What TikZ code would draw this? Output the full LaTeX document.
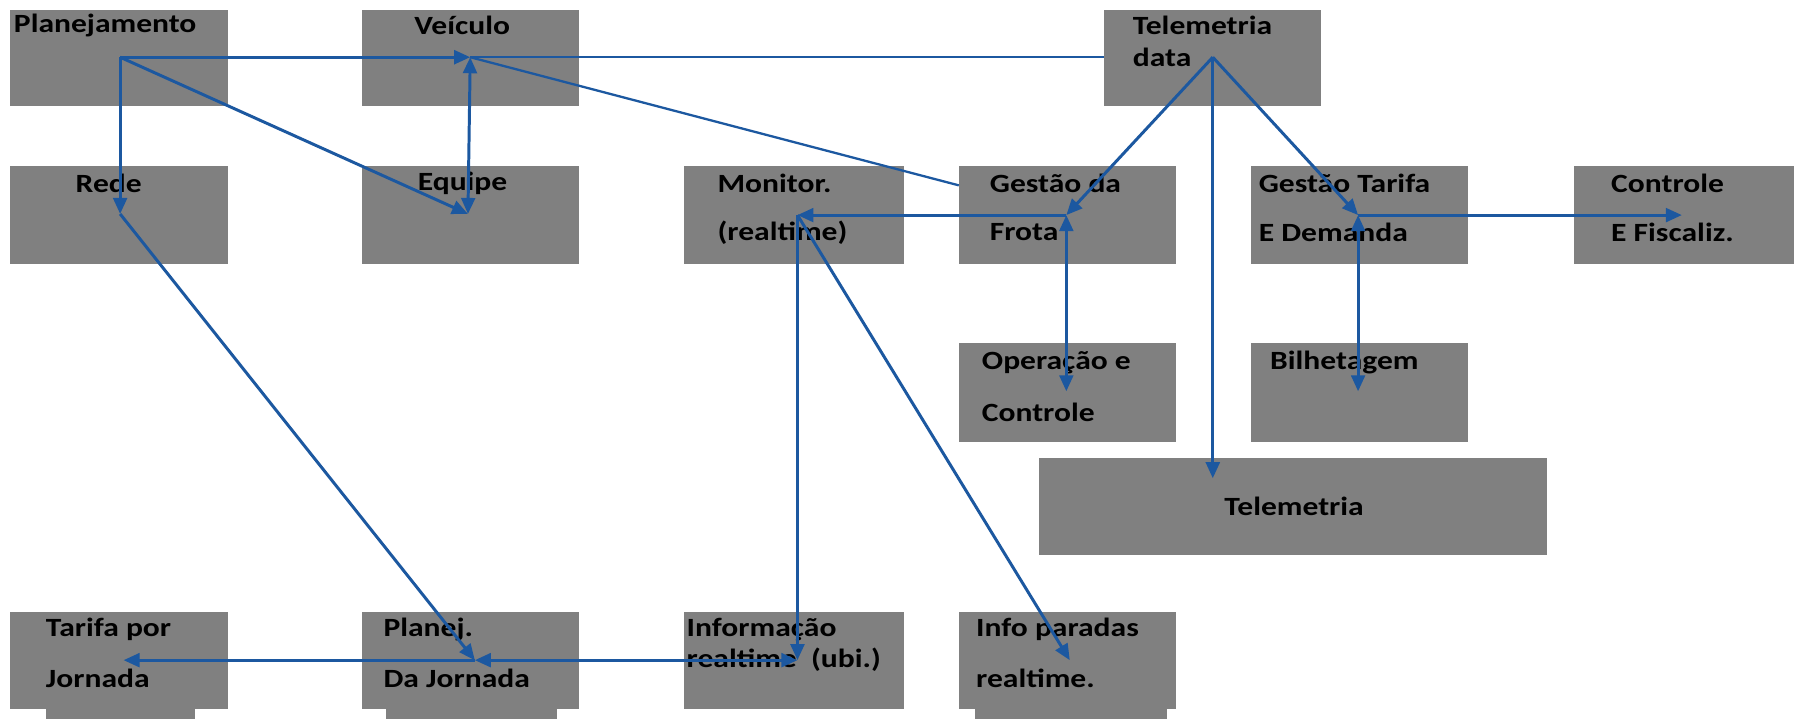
\documentclass[tikz,border=0pt]{standalone}
\usepackage{fontspec}
\setmainfont{Carlito}
\usetikzlibrary{arrows.meta,calc}
\definecolor{boxgray}{RGB}{128,128,128}
\definecolor{arrowblue}{RGB}{28,88,160}
\newcommand{\lbl}[1]{\scalebox{1.2}[1]{#1}}
\tikzset{
  box/.style={fill=boxgray, draw=none, inner sep=0pt, outer sep=0pt, anchor=north west},
  lbl/.style={anchor=west, inner sep=0pt, text=black, font=\bfseries\fontsize{23}{27}\selectfont},
  arr/.style={draw=arrowblue, line width=2.6pt, -{Triangle[length=14pt,width=12pt]}},
  dbl/.style={draw=arrowblue, line width=2.6pt, {Triangle[length=14pt,width=12pt]}-{Triangle[length=14pt,width=12pt]}},
  thin/.style={draw=arrowblue, line width=2pt},
}
\begin{document}
\begin{tikzpicture}[x=1pt,y=-1pt]
\useasboundingbox[fill=white] (0,0) rectangle (1568,628);
% boxes
\node[box, minimum width=190pt, minimum height=84pt] (plan) at (9,9) {};
\node[box, minimum width=190pt, minimum height=84pt] (veic) at (316,9) {};
\node[box, minimum width=190pt, minimum height=84pt] (teld) at (965,9) {};
\node[box, minimum width=190pt, minimum height=86pt] (rede) at (9,145) {};
\node[box, minimum width=190pt, minimum height=86pt] (equipe) at (316,145) {};
\node[box, minimum width=192pt, minimum height=86pt] (monitor) at (598,145) {};
\node[box, minimum width=190pt, minimum height=86pt] (gfrota) at (838,145) {};
\node[box, minimum width=190pt, minimum height=86pt] (gtarifa) at (1093,145) {};
\node[box, minimum width=192pt, minimum height=86pt] (controle) at (1376,145) {};
\node[box, minimum width=190pt, minimum height=86pt] (operacao) at (838,300) {};
\node[box, minimum width=190pt, minimum height=86pt] (bilhet) at (1093,300) {};
\node[box, minimum width=444pt, minimum height=85pt] (telem) at (908,400) {};
\node[box, minimum width=130pt, minimum height=10pt] (tarifajs) at (40,618) {};
\node[box, minimum width=150pt, minimum height=10pt] (planejjs) at (337,618) {};
\node[box, minimum width=168pt, minimum height=10pt] (infops) at (852,618) {};
\node[box, minimum width=190pt, minimum height=85pt] (tarifaj) at (9,535) {};
\node[box, minimum width=190pt, minimum height=85pt] (planejj) at (316,535) {};
\node[box, minimum width=192pt, minimum height=85pt] (info) at (598,535) {};
\node[box, minimum width=190pt, minimum height=85pt] (infop) at (838,535) {};
% labels
\node[lbl] (t1) at (12,22) {\lbl{Planejamento}};
\node[lbl] (t2) at (362,22) {\lbl{Veículo}};
\node[lbl] (t3a) at (990,22) {\lbl{Telemetria}};
\node[lbl] (t3b) at (990,50) {\lbl{data}};
\node[lbl] (t4) at (66,160) {\lbl{Rede}};
\node[lbl] (t5) at (365,160) {\lbl{Equipe}};
\node[lbl] (t6a) at (627,160) {\lbl{Monitor.}};
\node[lbl] (t6b) at (627,203) {\lbl{(realtime)}};
\node[lbl] (t7a) at (865,160) {\lbl{Gestão da}};
\node[lbl] (t7b) at (865,203) {\lbl{Frota}};
\node[lbl] (t8a) at (1100,160) {\lbl{Gestão Tarifa}};
\node[lbl] (t8b) at (1100,203) {\lbl{E Demanda}};
\node[lbl] (t9a) at (1408,160) {\lbl{Controle}};
\node[lbl] (t9b) at (1408,203) {\lbl{E Fiscaliz.}};
\node[lbl] (t10a) at (858,317) {\lbl{Operação e}};
\node[lbl] (t10b) at (858,360) {\lbl{Controle}};
\node[lbl] (t11) at (1110,317) {\lbl{Bilhetagem}};
\node[lbl] (t12) at (1070,443) {\lbl{Telemetria}};
\node[lbl] (t13a) at (40,550) {\lbl{Tarifa por}};
\node[lbl] (t13b) at (40,593) {\lbl{Jornada}};
\node[lbl] (t14a) at (335,550) {\lbl{Planej.}};
\node[lbl] (t14b) at (335,593) {\lbl{Da Jornada}};
\node[lbl] (t15a) at (600,550) {\lbl{Informação}};
\node[lbl] (t15b) at (600,577) {\lbl{realtime\ \ (ubi.)}};
\node[lbl] (t16a) at (853,550) {\lbl{Info paradas}};
\node[lbl] (t16b) at (853,593) {\lbl{realtime.}};
% hubs
\coordinate (P) at (105,50);
\coordinate (V) at (411,50);
\coordinate (T) at (1060,50);
\coordinate (R) at (105,187);
\coordinate (E) at (409,187);
\coordinate (M) at (697,188);
\coordinate (G) at (932,188);
\coordinate (GT) at (1187,188);
\coordinate (C) at (1470,188);
\coordinate (O) at (932,342);
\coordinate (B) at (1187,342);
\coordinate (TL) at (1060,418);
\coordinate (PJ) at (415,577);
\coordinate (TJ) at (108,577);
\coordinate (I) at (697,577);
\coordinate (IP) at (935,577);
\coordinate (GFin) at ($(gfrota.north west)+(0,17)$);
% connectors
\draw[thin] (V) -- (V -| teld.west);
\draw[thin] (V) -- (GFin);
\draw[arr] (P) -- (V);
\draw[arr] (P) -- (R);
\draw[arr] (P) -- (E);
\draw[dbl] (V) -- (E);
\draw[arr] (T) -- (G);
\draw[arr] (T) -- (GT);
\draw[arr] (T) -- (TL);
\draw[arr] (G) -- (M);
\draw[dbl] (G) -- (O);
\draw[arr] (GT) -- (C);
\draw[dbl] (GT) -- (B);
\draw[arr] (R) -- (PJ);
\draw[arr] (M) -- (I);
\draw[arr] (M) -- (IP);
\draw[dbl] (PJ) -- (I);
\draw[arr] (PJ) -- (TJ);
\end{tikzpicture}
\end{document}
